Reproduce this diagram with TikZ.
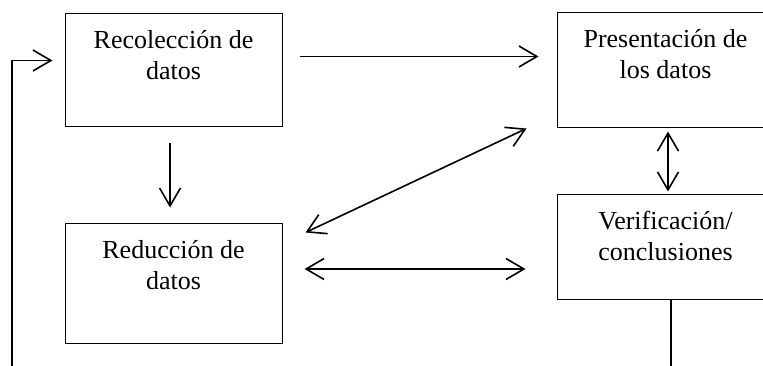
\documentclass[tikz,border=0pt]{standalone}
\usepackage{fontspec}
\setmainfont{Liberation Serif}
\usetikzlibrary{arrows.meta}
\tikzset{
  caja/.style={draw, line width=1pt, minimum width=217pt, inner sep=0pt},
  texto/.style={anchor=north, align=center, inner sep=0pt,
    font=\fontsize{26}{30.5}\selectfont, yshift=-13.5pt},
  punta/.tip={Straight Barb[length=18pt,width=21pt]},
  flecha/.style={line width=1.6pt, -punta},
  dflecha/.style={line width=1.6pt, punta-punta},
  linea/.style={line width=1.5pt},
}
\begin{document}
\begin{tikzpicture}[x=1pt,y=-1pt]
   \useasboundingbox (0,0) rectangle (763,366);

   \node[caja, minimum height=113pt] (rec) at (173.5,70.5) {};
   \node[caja, minimum height=119pt] (red) at (173.5,283.5) {};
   \node[caja, minimum height=115pt] (pre) at (665.5,70.5) {};
   \node[caja, minimum height=104pt] (ver) at (665.5,247) {};

   \node[texto] (trec) at (rec.north) {\strut Recolección de\\datos};
   \node[texto] (tred) at (red.north) {\strut Reducción de\\datos};
   \node[texto] (tpre) at (pre.north) {\strut Presentación de\\los datos};
   \node[texto] (tver) at (ver.north) {\strut Verificación/\\conclusiones};

   \coordinate (fbini) at (12,366);
   \draw[flecha] (fbini) |- ([xshift=-12pt,yshift=10pt]rec.west);

   \draw[flecha, shorten <=16pt, shorten >=16pt]
   ([xshift=-3.5pt]rec.south) -- ([xshift=-3.5pt]red.north);

   \draw[flecha, shorten <=17pt, shorten >=18pt]
   ([yshift=14pt]rec.east) -- ([yshift=14pt]pre.west);

   \draw[dflecha] ([xshift=23pt,yshift=-9pt]red.north east)
   -- ([xshift=-30pt]pre.south west);

   \coordinate (rb) at ([xshift=22pt,yshift=14.5pt]red.east);
   \draw[dflecha, shorten >=31pt] (rb) -- (rb -| ver.west);

   \draw[dflecha, shorten <=3pt, shorten >=3pt]
   ([xshift=2.5pt]pre.south) -- ([xshift=2.5pt]ver.north);

   \coordinate (vfin) at (671,366);
   \draw[linea] (vfin |- ver.south) -- (vfin);
 \end{tikzpicture}
\end{document}
